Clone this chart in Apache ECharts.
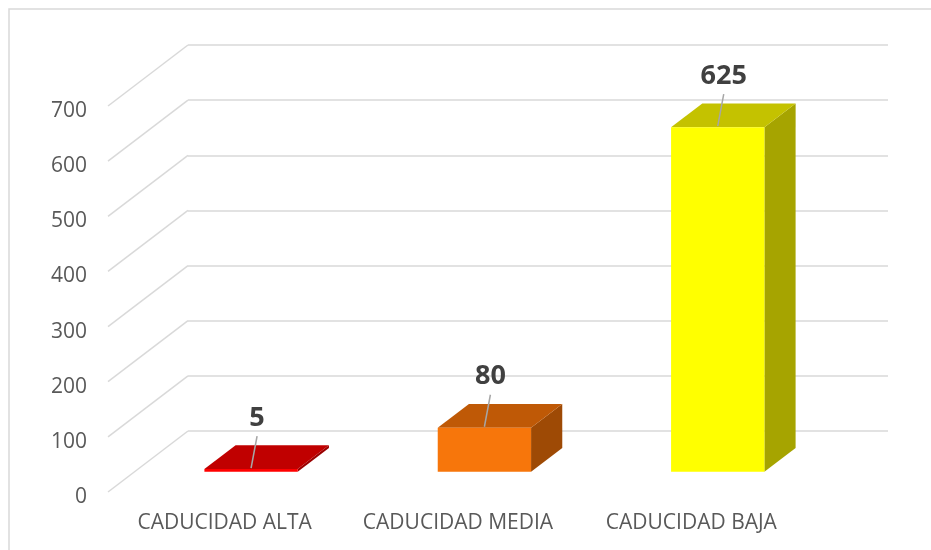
<!DOCTYPE html>
<html>
<head>
<meta charset="utf-8">
<title>Caducidad</title>
<script src="https://cdn.jsdelivr.net/npm/echarts@6/dist/echarts.min.js"></script>
<style>
    html, body { margin: 0; padding: 0; background: #fff; }
    #columns_3d { width: 931px; height: 550px; }
</style>
</head>
<body>
<div id="columns_3d"></div>
<script>
// Chart data
var categories = ['CADUCIDAD ALTA', 'CADUCIDAD MEDIA', 'CADUCIDAD BAJA'];
var values = [5, 80, 625];
var yTicks = [0, 100, 200, 300, 400, 500, 600, 700];

// Face colors: front, top, side
var frontColors = ['#ff0000', '#f7760b', '#ffff00'];
var topColors = ['#c00000', '#bf5906', '#c4c200'];
var sideColors = ['#9a0000', '#9e4a05', '#a6a400'];

// Front plane and back wall of the 3D box
var FRONT = {left: 108, top: 106, right: 123, bottom: 58};
var BACK = {left: 188, top: 45, right: 43, bottom: 119};
var DEPTH_DX = BACK.left - FRONT.left;
var DEPTH_DY = BACK.top - FRONT.top;

// Bar depth range (fraction of the box depth)
var BAR_D1 = 0.33;
var BAR_D2 = 0.72;

var fontFamily = '"Open Sans", "Noto Sans", sans-serif';

var option = {
    animation: false,
    backgroundColor: '#fff',

    // Chart border
    graphic: [{
        type: 'rect',
        shape: {x: 9, y: 9, width: 940, height: 560},
        style: {fill: 'none', stroke: '#d9d9d9', lineWidth: 1.5},
        silent: true
    }],

    grid: [
        {left: FRONT.left, top: FRONT.top, right: FRONT.right, bottom: FRONT.bottom},
        {left: BACK.left, top: BACK.top, right: BACK.right, bottom: BACK.bottom}
    ],

    // Horizontal axes
    xAxis: [{
        type: 'category',
        gridIndex: 0,
        data: categories,
        axisLine: {show: false},
        axisTick: {show: false},
        axisLabel: {
            interval: 0,
            hideOverlap: false,
            color: '#595959',
            fontFamily: fontFamily,
            fontSize: 21,
            margin: 21
        }
    }, {
        type: 'category',
        gridIndex: 1,
        data: categories,
        show: false
    }],

    // Vertical axes
    yAxis: [{
        type: 'value',
        gridIndex: 0,
        min: 0,
        max: 700,
        interval: 100,
        axisLine: {show: false},
        axisTick: {show: false},
        splitLine: {show: false},
        axisLabel: {
            color: '#595959',
            fontFamily: fontFamily,
            fontSize: 21,
            margin: 21,
            verticalAlign: 'top',
            lineHeight: 10
        }
    }, {
        type: 'value',
        gridIndex: 1,
        min: 0,
        max: 700,
        interval: 100,
        axisLine: {show: false},
        axisTick: {show: false},
        axisLabel: {show: false},
        splitLine: {
            lineStyle: {color: '#d9d9d9', width: 1.5}
        }
    }],

    series: [
        // Floor / side wall diagonals
        {
            type: 'custom',
            xAxisIndex: 0,
            yAxisIndex: 0,
            silent: true,
            data: yTicks.map(function (t) { return [0, t]; }),
            renderItem: function (params, api) {
                var y = api.coord([0, api.value(1)])[1];
                var x = params.coordSys.x;
                return {
                    type: 'line',
                    shape: {x1: x, y1: y, x2: x + DEPTH_DX, y2: y + DEPTH_DY},
                    style: {stroke: '#d9d9d9', lineWidth: 1.5}
                };
            }
        },
        // 3D bars
        {
            type: 'custom',
            xAxisIndex: 0,
            yAxisIndex: 0,
            data: values.map(function (v, i) { return [i, v]; }),
            renderItem: function (params, api) {
                var i = api.value(0);
                var base = api.coord([i, 0]);
                var top = api.coord([i, api.value(1)]);
                var bw = api.size([1, 0])[0] * 0.4;

                var fx = DEPTH_DX * BAR_D1, fy = DEPTH_DY * BAR_D1;
                var bx = DEPTH_DX * BAR_D2, by = DEPTH_DY * BAR_D2;
                var xl = base[0] - bw / 2, xr = base[0] + bw / 2;

                var front = [[xl + fx, top[1] + fy], [xr + fx, top[1] + fy], [xr + fx, base[1] + fy], [xl + fx, base[1] + fy]];
                var topFace = [[xl + fx, top[1] + fy], [xr + fx, top[1] + fy], [xr + bx, top[1] + by], [xl + bx, top[1] + by]];
                var side = [[xr + fx, top[1] + fy], [xr + fx, base[1] + fy], [xr + bx, base[1] + by], [xr + bx, top[1] + by]];

                var cx = base[0] + fx, cy = top[1] + fy;

                return {
                    type: 'group',
                    children: [
                        {type: 'polygon', shape: {points: side}, style: {fill: sideColors[i]}},
                        {type: 'polygon', shape: {points: topFace}, style: {fill: topColors[i]}},
                        {type: 'polygon', shape: {points: front}, style: {fill: frontColors[i]}},
                        {
                            type: 'line',
                            shape: {x1: cx + 6, y1: cy - 33, x2: cx, y2: cy - 1},
                            style: {stroke: '#a6a6a6', lineWidth: 1.5}
                        },
                        {
                            type: 'text',
                            x: cx + 6,
                            y: cy - 51,
                            style: {
                                text: String(api.value(1)),
                                fill: '#404040',
                                font: 'bold 27px ' + fontFamily,
                                align: 'center',
                                verticalAlign: 'middle'
                            }
                        }
                    ]
                };
            }
        }
    ]
};

document.addEventListener('DOMContentLoaded', function () {
    var chart = echarts.init(document.getElementById('columns_3d'));
    chart.setOption(option);
});
</script>
</body>
</html>
